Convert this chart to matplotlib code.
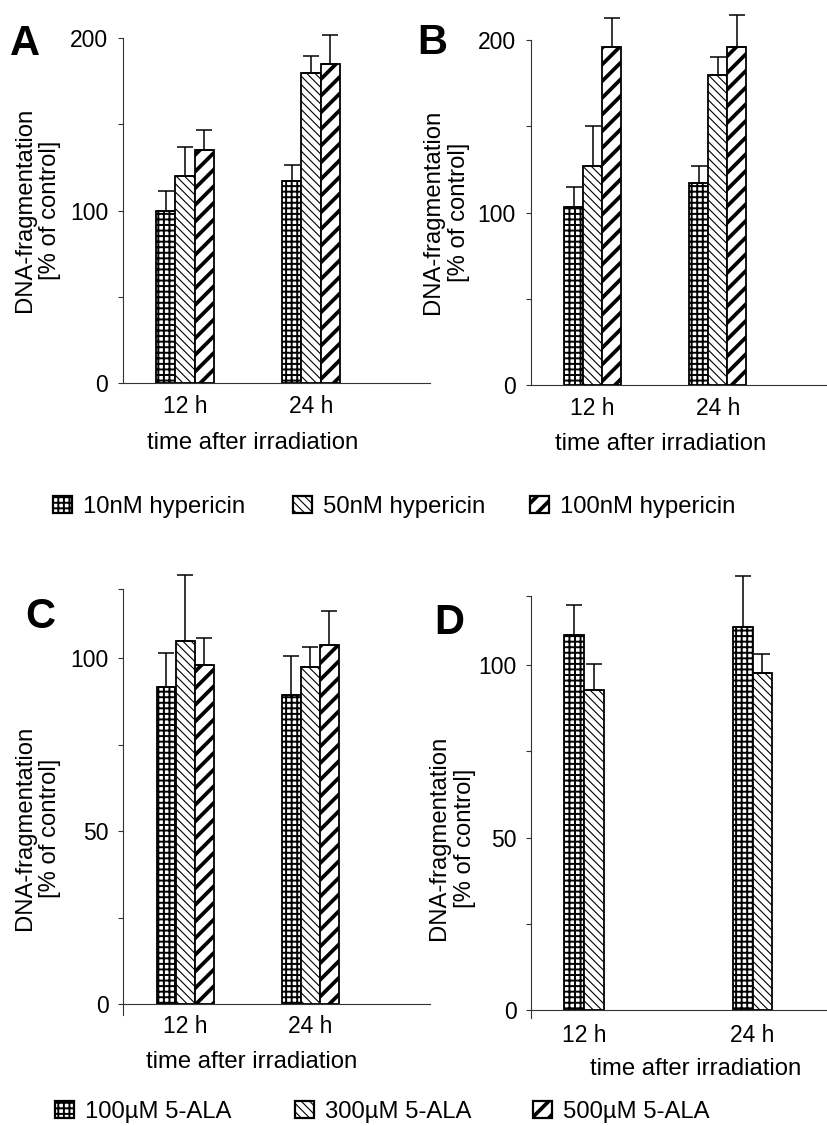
import matplotlib
matplotlib.use("Agg")
import matplotlib.pyplot as plt
import numpy as np

plt.rcParams['font.family'] = ['Liberation Sans', 'DejaVu Sans']
plt.rcParams['font.size'] = 16.5

# ---------------- data ----------------
categories = ['12 h', '24 h']

hyp_labels = ['10nM hypericin', '50nM hypericin', '100nM hypericin']
ala_labels = ['100\u00b5M 5-ALA', '300\u00b5M 5-ALA', '500\u00b5M 5-ALA']

a_10nm = [100, 117]
a_10nm_err = [11.5, 9.5]
a_50nm = [120, 179.5]
a_50nm_err = [17, 10]
a_100nm = [135, 185]
a_100nm_err = [11.5, 17]

b_10nm = [103.4, 117.3]
b_10nm_err = [11.6, 9.7]
b_50nm = [127, 180]
b_50nm_err = [23, 10]
b_100nm = [196, 196]
b_100nm_err = [17, 18.7]

c_100um = [91.6, 89.4]
c_100um_err = [10.1, 11.4]
c_300um = [105, 97.6]
c_300um_err = [19, 5.6]
c_500um = [98, 103.8]
c_500um_err = [8, 9.8]

d_100um = [108.7, 110.9]
d_100um_err = [8.7, 14.8]
d_300um = [92.7, 97.6]
d_300um_err = [7.7, 5.7]

# ---------------- styles ----------------
HATCHES = ['+++', '\\\\\\\\', '//']
HATCH_LW = [1.4, 0.8, 2.7]
LABEL_FS = 17.2

W, H = 827, 1126
fig = plt.figure(figsize=(W / 100, H / 100), dpi=100)


def px_axes(left, right, top, bottom):
    return fig.add_axes([left / W, 1 - bottom / H, (right - left) / W, (bottom - top) / H])


def draw_bars(ax, series, errs, width, offsets):
    conts = []
    x = np.arange(len(categories))
    for i, (vals, err) in enumerate(zip(series, errs)):
        with plt.rc_context({'hatch.linewidth': HATCH_LW[i]}):
            bc = ax.bar(x + offsets[i] * width, vals, width, color='white',
                        edgecolor='black', linewidth=1.3, hatch=HATCHES[i], zorder=2)
        for p in bc.patches:
            if hasattr(p, 'set_hatch_linewidth'):
                p.set_hatch_linewidth(HATCH_LW[i])
        eb = ax.errorbar(x + offsets[i] * width, vals,
                         yerr=[np.zeros(len(vals)), err], fmt='none',
                         ecolor='black', elinewidth=1.1, capsize=5.5, capthick=1.1,
                         zorder=3)
        for art in eb.lines[1] + eb.lines[2]:
            art.set_clip_on(False)
        conts.append(bc)
    return conts


def style_axes(ax, ylim, major, labeled, xlim, xpad, zero_spine=False):
    ax.set_xlim(*xlim)
    ax.set_ylim(*ylim)
    ax.spines['top'].set_visible(False)
    ax.spines['right'].set_visible(False)
    for s in ('left', 'bottom'):
        ax.spines[s].set_linewidth(0.8)
        ax.spines[s].set_color('#333333')
    if zero_spine:
        ax.spines['bottom'].set_position(('data', 0))
    ax.set_yticks(major)
    ax.set_yticklabels([str(v) if v in labeled else '' for v in major])
    ax.tick_params(axis='y', direction='out', length=3.6, width=0.8, pad=7,
                   color='#333333')
    ax.set_xticks(np.arange(len(categories)))
    ax.set_xticklabels(categories)
    ax.tick_params(axis='x', length=0, pad=xpad)
    ax.patch.set_alpha(0)


def ylabel(ax, x, y):
    ax.set_ylabel('DNA-fragmentation\n[% of control]', multialignment='center',
                  fontsize=LABEL_FS)
    ax.yaxis.label.set_va('center')
    ax.yaxis.set_label_coords(x, y)


def xlabel(ax, x, y):
    ax.set_xlabel('time after irradiation', fontsize=LABEL_FS)
    ax.xaxis.label.set_va('center')
    ax.xaxis.set_label_coords(x, y)


bw = 0.152

# Panel A
axA = px_axes(123, 430, 38, 383)
bars_A = draw_bars(axA, [a_10nm, a_50nm, a_100nm],
                   [a_10nm_err, a_50nm_err, a_100nm_err], bw, [-1, 0, 1])
style_axes(axA, (0, 200), [0, 50, 100, 150, 200], [0, 100, 200],
           (-0.492, 1.944), 8.5)
ylabel(axA, (37.5 - 123) / 307, 0.501)
xlabel(axA, (253 - 123) / 307, (383 - 443) / 345)

# Panel B
axB = px_axes(530.7, 827, 40, 385)
draw_bars(axB, [b_10nm, b_50nm, b_100nm],
          [b_10nm_err, b_50nm_err, b_100nm_err], bw, [-1, 0, 1])
style_axes(axB, (0, 200), [0, 50, 100, 150, 200], [0, 100, 200],
           (-0.496, 1.874), 8.5)
ylabel(axB, (446 - 530.7) / 296.3, 0.501)
xlabel(axB, (661 - 530.7) / 296.3, (385 - 444) / 345)

# Panel C
axC = px_axes(123.3, 430, 589.3, 1015)
bars_C = draw_bars(axC, [c_100um, c_300um, c_500um],
                   [c_100um_err, c_300um_err, c_500um_err], bw, [-1, 0, 1])
style_axes(axC, (-3.2, 120), [0, 25, 50, 75, 100, 120], [0, 50, 100],
           (-0.495, 1.958), 8, zero_spine=True)
ylabel(axC, (37.5 - 123.3) / 306.7, (1015 - 828) / 425.7)
xlabel(axC, (252 - 123.3) / 306.7, (1015 - 1062) / 425.7)

# Panel D
axD = px_axes(531.3, 827, 596, 1018)
draw_bars(axD, [d_100um, d_300um], [d_100um_err, d_300um_err], 0.116, [-0.5, 0.5])
style_axes(axD, (-2.3, 120), [0, 25, 50, 75, 100, 120], [0, 50, 100],
           (-0.313, 1.442), 10, zero_spine=True)
ylabel(axD, (452 - 531.3) / 295.7, (1018 - 838) / 422)
xlabel(axD, (696 - 531.3) / 295.7, (1018 - 1069) / 422)

# Panel letters
for letter, (x, y) in zip('ABCD', [(25, 44), (432, 43), (40, 617), (449, 623)]):
    fig.text(x / W, 1 - y / H, letter, fontsize=30, fontweight='bold',
             ha='center', va='center')

# Legends
def legend_row(conts, labels, xs, y):
    for i, (bc, lab, x) in enumerate(zip(conts, labels, xs)):
        leg = fig.legend([bc], [lab], loc='center left',
                         bbox_to_anchor=(x / W, 1 - y / H), frameon=False,
                         borderpad=0, borderaxespad=0, handlelength=0.8,
                         handleheight=0.75, handletextpad=0.45, fontsize=LABEL_FS)
        for h in leg.legend_handles:
            if hasattr(h, 'set_hatch_linewidth'):
                h.set_hatch_linewidth(HATCH_LW[i])
            h.set_linewidth(1.6)

legend_row(bars_A, hyp_labels, [53, 293, 530], 506.7)
legend_row(bars_C, ala_labels, [55, 295, 533], 1112)

fig.savefig('out.png', dpi=100)
